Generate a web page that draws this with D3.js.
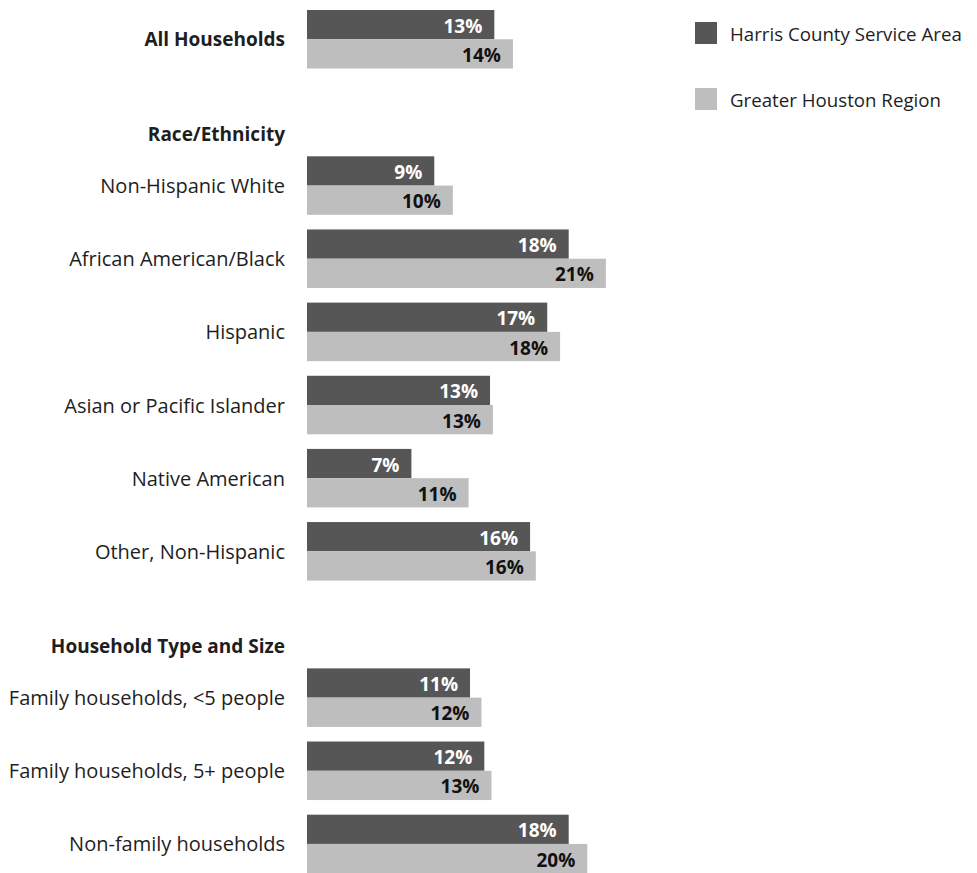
<!DOCTYPE html>
<html>
<head>
<meta charset="utf-8">
<script src="https://cdn.jsdelivr.net/npm/d3@7"></script>
<style>
  html, body { margin: 0; padding: 0; background: #fff; }
  svg { display: block; }
  text { font-family: "Open Sans", sans-serif; }
</style>
</head>
<body>
<svg id="chart" width="977" height="873"></svg>
<script>
// ---- data ----
const categories = [
  "All Households",
  "Race/Ethnicity",
  "Non-Hispanic White",
  "African American/Black",
  "Hispanic",
  "Asian or Pacific Islander",
  "Native American",
  "Other, Non-Hispanic",
  "Household Type and Size",
  "Family households, <5 people",
  "Family households, 5+ people",
  "Non-family households"
];
const boldCategories = ["All Households", "Race/Ethnicity", "Household Type and Size"];
const headerCategories = ["Race/Ethnicity", "Household Type and Size"];
const seriesNames = ["Harris County Service Area", "Greater Houston Region"];
const harrisValues  = [13.1, null, 8.9, 18.3, 16.8, 12.8, 7.3, 15.6, null, 11.4, 12.4, 18.3];
const greaterValues = [14.4, null, 10.2, 20.9, 17.7, 13.0, 11.3, 16.0, null, 12.2, 12.9, 19.6];
const seriesColors = ["#565656", "#bebebe"];
const labelColors = ["#ffffff", "#111111"];

// ---- layout ----
const svg = d3.select("#chart");
const x = d3.scaleLinear().domain([0, 25]).range([307, 307 + 357.5]);
const y = d3.scaleBand().domain(categories).range([10, 873.2]).paddingInner(0.2).paddingOuter(0);
const ySub = d3.scaleBand().domain(seriesNames).range([0, y.bandwidth()]);
const color = d3.scaleOrdinal().domain(seriesNames).range(seriesColors);
const labelColor = d3.scaleOrdinal().domain(seriesNames).range(labelColors);

const rows = categories.map((c, i) => ({
  cat: c,
  values: [
    { series: seriesNames[0], v: harrisValues[i] },
    { series: seriesNames[1], v: greaterValues[i] }
  ]
}));

// category labels
svg.append("g").selectAll("text").data(categories).join("text")
  .attr("x", 285)
  .attr("y", d => y(d) + y.bandwidth() / 2 + (headerCategories.includes(d) ? 22 : 0))
  .attr("text-anchor", "end")
  .attr("dominant-baseline", "central")
  .attr("font-size", d => boldCategories.includes(d) ? 19 : 20)
  .attr("font-weight", d => boldCategories.includes(d) ? 700 : 400)
  .attr("fill", "#1e1e1e")
  .text(d => d);

// bars
const groups = svg.append("g").selectAll("g").data(rows.filter(r => r.values[0].v != null)).join("g")
  .attr("transform", d => `translate(0,${y(d.cat)})`);

groups.selectAll("rect").data(d => d.values).join("rect")
  .attr("x", x(0))
  .attr("y", d => ySub(d.series))
  .attr("width", d => x(d.v) - x(0))
  .attr("height", ySub.bandwidth())
  .attr("fill", d => color(d.series));

groups.selectAll("text").data(d => d.values).join("text")
  .attr("x", d => x(d.v) - 12)
  .attr("y", d => ySub(d.series) + ySub.bandwidth() / 2 + 1)
  .attr("text-anchor", "end")
  .attr("dominant-baseline", "central")
  .attr("font-size", 19)
  .attr("font-weight", 700)
  .attr("fill", d => labelColor(d.series))
  .text(d => Math.round(d.v) + "%");

// legend
const legend = svg.append("g").selectAll("g").data(seriesNames).join("g")
  .attr("transform", (d, i) => `translate(695,${22 + i * 66})`);
legend.append("rect").attr("width", 22).attr("height", 22).attr("fill", d => color(d));
legend.append("text")
  .attr("x", 35).attr("y", 11.5)
  .attr("dominant-baseline", "central")
  .attr("font-size", 18.7)
  .attr("fill", "#1e1e1e")
  .text(d => d);
</script>
</body>
</html>
